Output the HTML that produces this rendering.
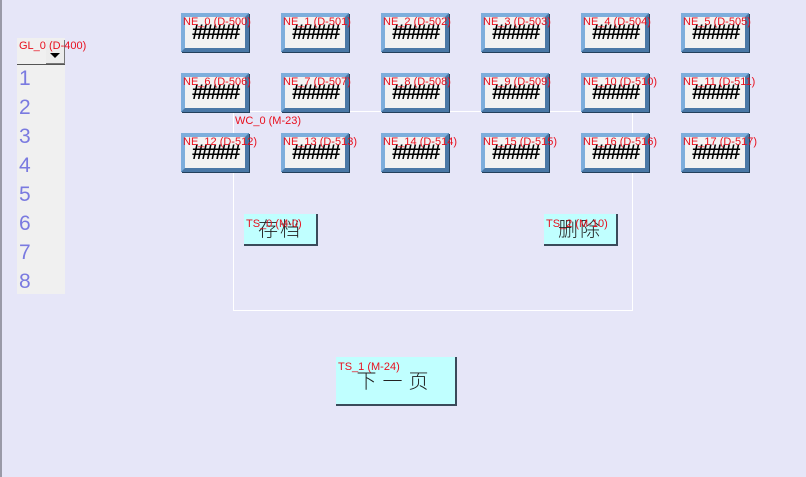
<!DOCTYPE html>
<html><head><meta charset="utf-8"><style>
body{margin:0;width:806px;height:477px;background:#e6e6f8;position:relative;overflow:hidden;font-family:"Liberation Sans","Noto Sans CJK SC",sans-serif}
.a{position:absolute}
.lbl{position:absolute;color:#e8101e;font-size:11px;white-space:nowrap;line-height:12px}
.ne{position:absolute;width:60px;height:31px;background:#f2f2f2;border:4px solid #7eaedc;border-right-color:#4a78a6;border-bottom-color:#4a78a6;box-shadow:1px 1px 0 #23405c}
.ne .h{position:absolute;left:7px;top:4px;font-size:21px;font-weight:bold;letter-spacing:-2.5px;color:#000;line-height:24px}
.ts{position:absolute;background:#c0ffff;border-right:2px solid #3a4a5a;border-bottom:2px solid #3a4a5a;text-align:center;color:#222;font-weight:300}
.n{position:absolute;left:19px;color:#7a7ae0;font-size:21px;line-height:22px}
</style></head><body>
<div class="a" style="left:0;top:0;width:2px;height:477px;background:#9a9aa8"></div>
<div class="a" style="left:17px;top:38px;width:48px;height:256px;background:#f0f0f0"></div>
<div class="a" style="left:17px;top:64px;width:48px;height:1px;background:#555"></div>
<div class="a" style="left:46px;top:40px;width:18px;height:23px;background:#ececec;border-right:1px solid #777;border-bottom:1px solid #777"></div>
<div class="a" style="left:50px;top:53px;width:0;height:0;border-left:5px solid transparent;border-right:5px solid transparent;border-top:5px solid #000"></div>
<div class="lbl" style="left:19px;top:40px">GL_0 (D-400)</div>
<div class="n" style="top:68px">1</div><div class="n" style="top:97px">2</div><div class="n" style="top:126px">3</div><div class="n" style="top:155px">4</div><div class="n" style="top:184px">5</div><div class="n" style="top:213px">6</div><div class="n" style="top:242px">7</div><div class="n" style="top:271px">8</div>

<div class="a" style="left:233px;top:111px;width:398px;height:198px;border:1px solid #fff"></div>
<div class="lbl" style="left:235px;top:115px">WC_0 (M-23)</div>

<div class="ne" style="left:181px;top:13px"><div class="h">#####</div></div><div class="lbl" style="left:183px;top:16px">NE_0 (D-500)</div>
<div class="ne" style="left:281px;top:13px"><div class="h">#####</div></div><div class="lbl" style="left:283px;top:16px">NE_1 (D-501)</div>
<div class="ne" style="left:381px;top:13px"><div class="h">#####</div></div><div class="lbl" style="left:383px;top:16px">NE_2 (D-502)</div>
<div class="ne" style="left:481px;top:13px"><div class="h">#####</div></div><div class="lbl" style="left:483px;top:16px">NE_3 (D-503)</div>
<div class="ne" style="left:581px;top:13px"><div class="h">#####</div></div><div class="lbl" style="left:583px;top:16px">NE_4 (D-504)</div>
<div class="ne" style="left:681px;top:13px"><div class="h">#####</div></div><div class="lbl" style="left:683px;top:16px">NE_5 (D-505)</div>
<div class="ne" style="left:181px;top:73px"><div class="h">#####</div></div><div class="lbl" style="left:183px;top:76px">NE_6 (D-506)</div>
<div class="ne" style="left:281px;top:73px"><div class="h">#####</div></div><div class="lbl" style="left:283px;top:76px">NE_7 (D-507)</div>
<div class="ne" style="left:381px;top:73px"><div class="h">#####</div></div><div class="lbl" style="left:383px;top:76px">NE_8 (D-508)</div>
<div class="ne" style="left:481px;top:73px"><div class="h">#####</div></div><div class="lbl" style="left:483px;top:76px">NE_9 (D-509)</div>
<div class="ne" style="left:581px;top:73px"><div class="h">#####</div></div><div class="lbl" style="left:583px;top:76px">NE_10 (D-510)</div>
<div class="ne" style="left:681px;top:73px"><div class="h">#####</div></div><div class="lbl" style="left:683px;top:76px">NE_11 (D-511)</div>
<div class="ne" style="left:181px;top:133px"><div class="h">#####</div></div><div class="lbl" style="left:183px;top:136px">NE_12 (D-512)</div>
<div class="ne" style="left:281px;top:133px"><div class="h">#####</div></div><div class="lbl" style="left:283px;top:136px">NE_13 (D-513)</div>
<div class="ne" style="left:381px;top:133px"><div class="h">#####</div></div><div class="lbl" style="left:383px;top:136px">NE_14 (D-514)</div>
<div class="ne" style="left:481px;top:133px"><div class="h">#####</div></div><div class="lbl" style="left:483px;top:136px">NE_15 (D-515)</div>
<div class="ne" style="left:581px;top:133px"><div class="h">#####</div></div><div class="lbl" style="left:583px;top:136px">NE_16 (D-516)</div>
<div class="ne" style="left:681px;top:133px"><div class="h">#####</div></div><div class="lbl" style="left:683px;top:136px">NE_17 (D-517)</div>

<div class="ts" style="left:244px;top:214px;width:72px;height:30px;font-size:20px;line-height:32px;letter-spacing:2px">存档</div>
<div class="lbl" style="left:246px;top:218px">TS_0 (M-0)</div>
<div class="ts" style="left:544px;top:214px;width:72px;height:30px;font-size:20px;line-height:32px;letter-spacing:2px">删除</div>
<div class="lbl" style="left:546px;top:218px">TS_2 (M-10)</div>
<div class="ts" style="left:336px;top:357px;width:119px;height:47px;font-size:20px;line-height:50px;letter-spacing:6px">下一页</div>
<div class="lbl" style="left:338px;top:361px">TS_1 (M-24)</div>
</body></html>
